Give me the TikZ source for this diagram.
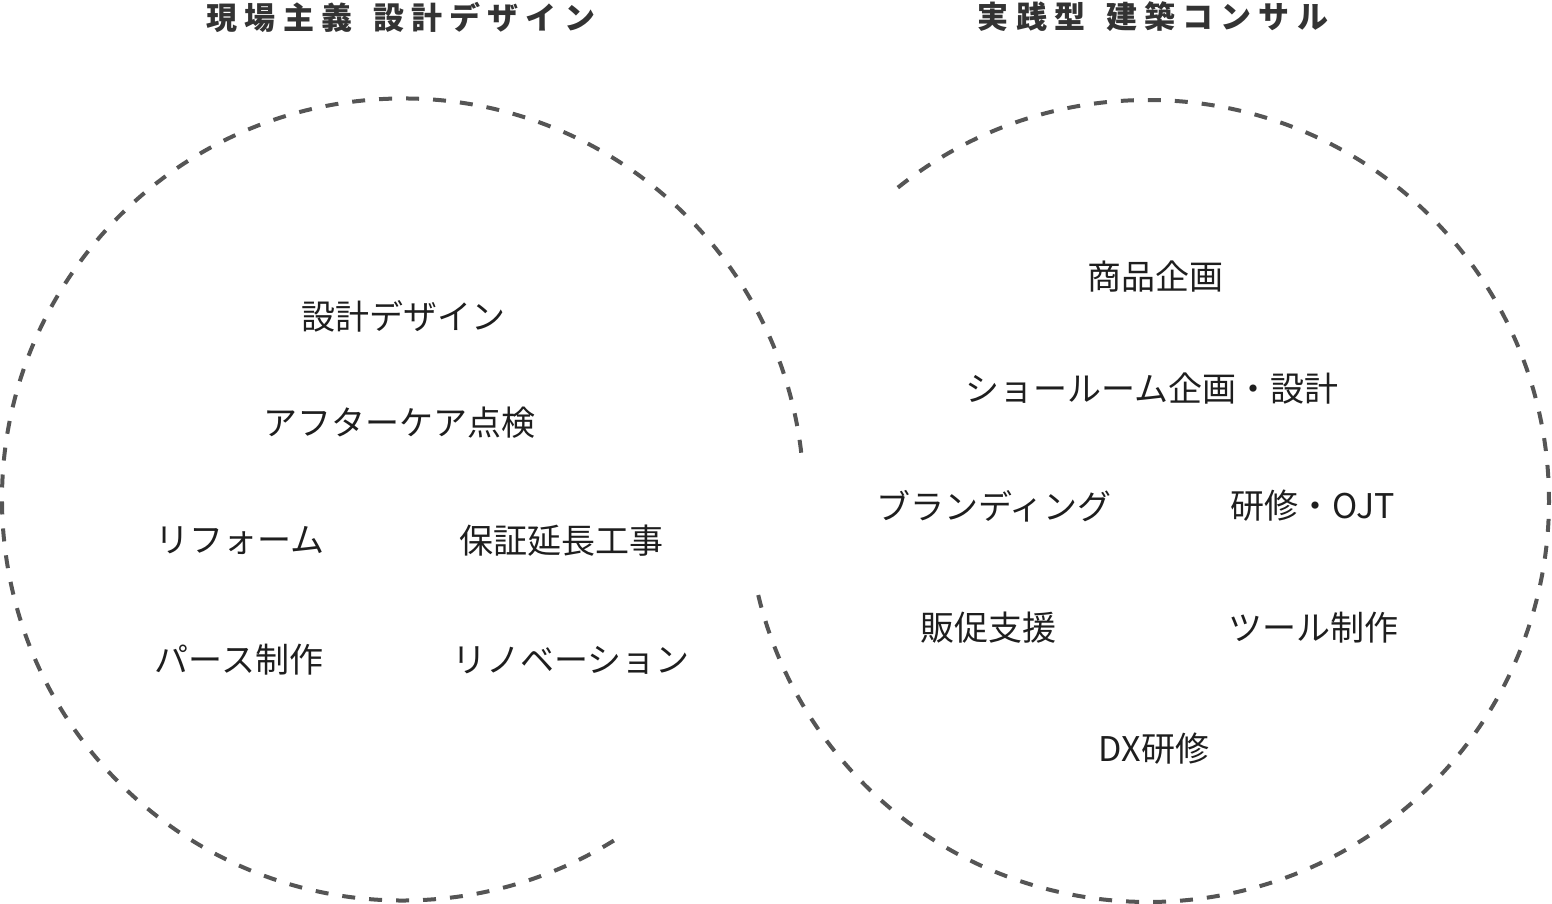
\documentclass[tikz,border=0pt]{standalone}
\usepackage{fontspec}
\setmainfont{Noto Sans CJK JP}
\newfontfamily\jptitle[LetterSpace=23]{Noto Sans CJK JP}
\definecolor{ringgray}{HTML}{555555}
\definecolor{titlegray}{HTML}{333333}
\definecolor{itemblack}{HTML}{1E1E1E}
\tikzset{
  ring/.style={draw=ringgray, line width=4pt, dash pattern=on 13pt off 14pt},
  item/.style={text=itemblack, inner sep=0pt, font=\fontsize{34}{40}\selectfont},
  heading/.style={text=titlegray, inner sep=0pt, font=\jptitle\bfseries\fontsize{31}{36}\selectfont}
}
\begin{document}
\begin{tikzpicture}[x=1pt,y=1pt]
\useasboundingbox (0,0) rectangle (1552,904);
% circle centres
\coordinate (lc) at (403,404.5);
\coordinate (rc) at (1148,403);
% left dashed arc
\draw[ring] (lc) ++(6.7:401) arc[start angle=6.7, end angle=302.7, radius=401];
% right dashed arc
\draw[ring] (rc) ++(128.6:401) arc[start angle=128.6, end angle=-167.5, radius=401];
% titles
\node[heading] (tl) at (401,887) {現場主義\hspace{7pt} 設計デザイン};
\node[heading] (tr) at (1153,887) {実践型\hspace{7pt} 建築コンサル};
% left items
\node[item] (l1) at (403,588) {設計デザイン};
\node[item] (l2) at (399,481) {アフターケア点検};
\node[item] (l3) at (240,363) {リフォーム};
\node[item] (l4) at (561,363) {保証延長工事};
\node[item] (l5) at (239,244) {パース制作};
\node[item] (l6) at (571,244) {リノベーション};
% right items
\node[item] (r1) at (1155,627) {商品企画};
\node[item] (r2) at (1152,515) {ショールーム企画・設計};
\node[item] (r3) at (994,398) {ブランディング};
\node[item] (r4) at (1313,398) {研修・OJT};
\node[item] (r5) at (988,276) {販促支援};
\node[item] (r6) at (1313,276) {ツール制作};
\node[item] (r7) at (1154,155) {DX研修};
\end{tikzpicture}
\end{document}
